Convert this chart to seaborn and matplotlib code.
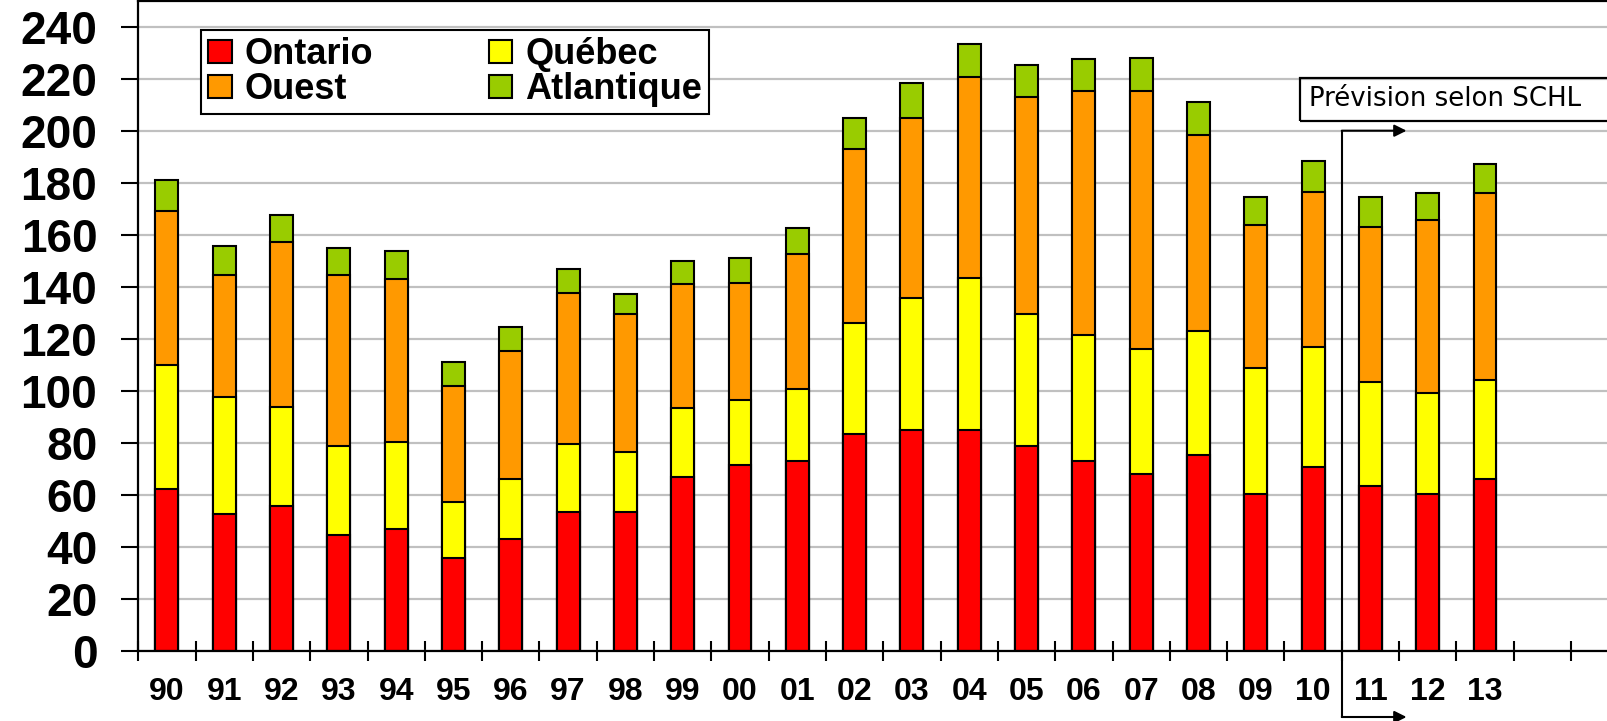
import matplotlib

matplotlib.use("Agg")
import matplotlib.pyplot as plt
import numpy as np
import seaborn as sns
from matplotlib.patches import Patch, Rectangle

sns.set_theme(style="ticks")
plt.rcParams["font.family"] = ["Liberation Sans", "DejaVu Sans"]
plt.rcParams["font.weight"] = "bold"
plt.rcParams["text.color"] = "black"

# %%
years = ["90", "91", "92", "93", "94", "95", "96", "97", "98", "99", "00", "01",
         "02", "03", "04", "05", "06", "07", "08", "09", "10", "11", "12", "13"]
ontario = [62.3, 52.7, 55.7, 44.6, 47.0, 35.8, 43.1, 53.4, 53.4, 67.0, 71.5, 73.1,
           83.4, 84.9, 84.9, 78.8, 73.1, 67.8, 75.2, 60.2, 70.6, 63.2, 60.3, 66.2]
quebec = [47.7, 44.8, 38.0, 34.1, 33.3, 21.5, 22.9, 26.2, 23.1, 26.2, 24.9, 27.5,
          42.5, 50.8, 58.3, 50.8, 48.4, 48.3, 47.7, 48.6, 46.3, 40.3, 38.7, 38.0]
ouest = [59.0, 46.9, 63.4, 65.7, 62.7, 44.7, 49.4, 58.1, 53.1, 47.7, 45.1, 52.0,
         67.0, 69.1, 77.3, 83.4, 93.8, 99.2, 75.3, 55.1, 59.6, 59.5, 66.5, 71.7]
atlantique = [12.0, 11.3, 10.6, 10.5, 10.6, 9.0, 9.0, 9.1, 7.5, 8.9, 9.7, 9.8,
              12.0, 13.6, 12.8, 12.1, 12.1, 12.7, 12.8, 10.5, 12.0, 11.4, 10.4, 11.3]

series = ["Ontario", "Québec", "Ouest", "Atlantique"]
colors = ["#FF0000", "#FFFF00", "#FF9900", "#99CC00"]
yticks = list(range(0, 241, 20))
forecast_label = "Prévision selon SCHL"

# %%
W, H = 1607, 721
fig = plt.figure(figsize=(W / 100, H / 100), dpi=100)
ax = fig.add_axes([138.3 / W, 70.3 / H, 1490 / W, 650 / H])

# stacked bars: draw cumulative totals, tallest first
stack = np.cumsum(np.array([ontario, quebec, ouest, atlantique]), axis=0)
for i in range(len(series) - 1, -1, -1):
    sns.barplot(
        x=years,
        y=stack[i],
        order=years,
        color=colors[i],
        saturation=1,
        width=0.4,
        edgecolor="black",
        linewidth=1.5,
        errorbar=None,
        ax=ax,
    )

ax.set_xlim(-0.5, 25.5)
ax.set_ylim(0, 250)
ax.set_yticks(yticks)
ax.set_xlabel("")
ax.set_ylabel("")
ax.set_axisbelow(True)
ax.yaxis.grid(True, color="#c0c0c0", linewidth=1.6)

for side in ["left", "bottom", "top"]:
    ax.spines[side].set_color("black")
    ax.spines[side].set_linewidth(1.6)
ax.spines["right"].set_visible(False)

ax.tick_params(axis="y", direction="out", length=12.5, width=1.5, pad=17, labelsize=33, colors="black")
ax.tick_params(axis="x", which="major", length=0, pad=19, labelsize=23, colors="black")
ax.set_xticks(np.arange(-0.5, 26, 1), minor=True)
ax.tick_params(axis="x", which="minor", direction="inout", length=14, width=1.5, color="black")
for lab in ax.get_xticklabels() + ax.get_yticklabels():
    lab.set_fontweight("bold")

# legend
handles = [Patch(facecolor=c, edgecolor="black", linewidth=1.5) for c in colors]
order = [0, 2, 1, 3]
leg = ax.legend(
    [handles[k] for k in order],
    [series[k] for k in order],
    ncol=2,
    loc="upper left",
    bbox_to_anchor=(201 / W, 1 - 30 / H),
    bbox_transform=fig.transFigure,
    borderaxespad=0,
    fancybox=False,
    framealpha=1,
    edgecolor="black",
    labelcolor="black",
    prop={"size": 26, "weight": "bold"},
    handlelength=0.65,
    handleheight=0.6,
    handletextpad=0.36,
    columnspacing=3.2,
    labelspacing=0.0,
    borderpad=0.2,
)
leg.get_frame().set_linewidth(1.5)

# forecast annotation
fig.patches.append(
    Rectangle((1300 / W, 1 - 121.2 / H), 330 / W, 43.5 / H, transform=fig.transFigure,
              fill=False, edgecolor="black", linewidth=1.6)
)
fig.text(1309 / W, 1 - 99.5 / H, forecast_label, family="DejaVu Sans", weight="normal",
         fontsize=18.7, va="center", ha="left", color="black")

ax.plot([20.5, 20.5], [200, -25.5], color="black", linewidth=1.5, clip_on=False)
for yv in [200, -25.5]:
    ax.annotate(
        "",
        xy=(21.63, yv),
        xytext=(20.5, yv),
        arrowprops=dict(arrowstyle="-|>", color="black", lw=1.5, shrinkA=0, shrinkB=0, mutation_scale=18),
        annotation_clip=False,
    )

fig.savefig("out.png", dpi=100)
